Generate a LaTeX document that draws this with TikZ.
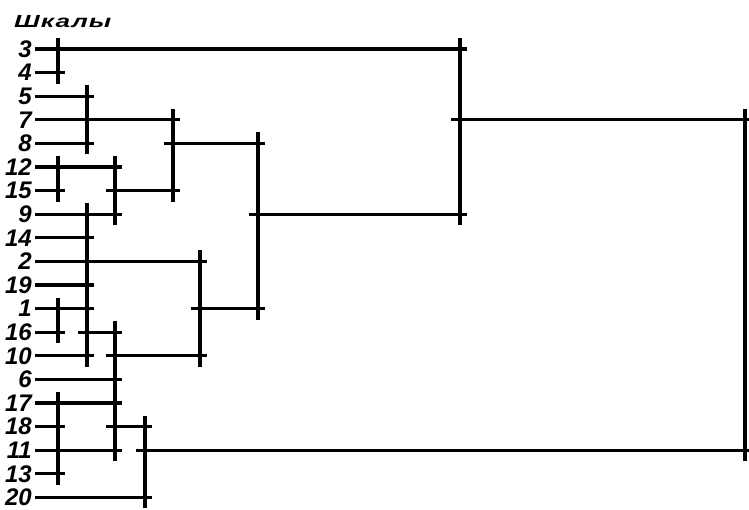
\documentclass[tikz,border=0pt]{standalone}
\usepackage{fontspec}
\setmainfont{Liberation Sans}
\usetikzlibrary{positioning}
\tikzset{
  dglab/.style={anchor=east, inner sep=0pt, font=\fontsize{24}{24}\selectfont\bfseries\itshape},
  dgtitle/.style={anchor=west, inner sep=0pt, font=\fontsize{17.5}{17.5}\selectfont\bfseries\itshape\addfontfeature{LetterSpace=4}},
  dgleaf/.style={line width=3.2pt, shorten <=3pt, shorten >=-7pt},
  dgout/.style={line width=3.2pt, shorten <=-9pt, shorten >=-7pt},
  dgjoin/.style={line width=3.4pt, shorten <=-11pt, shorten >=-11pt}
}

\begin{document}
\begin{tikzpicture}[x=1pt, y=-1pt]
  \useasboundingbox (0,0) rectangle (749,510);
  \node[dgtitle] (title) at (14,21.5) {\scalebox{1.5}[1]{Шкалы}};
  \foreach \s [count=\i from 0] in {3,4,5,7,8,12,15,9,14,2,19,1,16,10,6,17,18,11,13,20}
    \node[dglab] (s\s) at (32,{49+23.6*\i}) {\s};
  \coordinate (cl34) at (58,0);
  \coordinate (cl578) at (87,0);
  \coordinate (cl1215) at (58,0);
  \coordinate (cl129) at (115,0);
  \coordinate (cl512) at (173,0);
  \coordinate (cl116) at (58,0);
  \coordinate (cl1410) at (87,0);
  \coordinate (cl616) at (115,0);
  \coordinate (cl210) at (200,0);
  \coordinate (cl514) at (258,0);
  \coordinate (cl1713) at (58,0);
  \coordinate (cl1720) at (145,0);
  \coordinate (cl314) at (460,0);
  \coordinate (clall) at (745,0);
  \foreach \s/\c in {3/cl314,4/cl34,5/cl578,7/cl512,8/cl578,12/cl129,15/cl1215,9/cl129,14/cl1410,2/cl210,
                     19/cl1410,1/cl1410,16/cl116,10/cl1410,6/cl616,17/cl616,18/cl1713,11/cl616,13/cl1713,20/cl1720}
    \draw[dgleaf] (s\s.east) -- (s\s.east -| \c);
  \foreach \a/\b/\r in {cl129/cl512/15,cl512/cl514/8,cl1410/cl616/16,cl616/cl210/10,cl616/cl1720/18,
                        cl210/cl514/1,cl514/cl314/9,cl314/clall/7,cl1720/clall/11}
    \draw[dgout] (\a |- s\r) -- (\b |- s\r);
  \foreach \c/\t/\b in {cl34/3/4,cl578/5/8,cl1215/12/15,cl129/12/9,cl512/7/15,cl116/1/16,cl1410/9/10,
                        cl616/16/11,cl210/2/10,cl514/8/1,cl1713/17/13,cl1720/18/20,cl314/3/9,clall/7/11}
    \draw[dgjoin] (\c |- s\t) -- (\c |- s\b);
\end{tikzpicture}
\end{document}
